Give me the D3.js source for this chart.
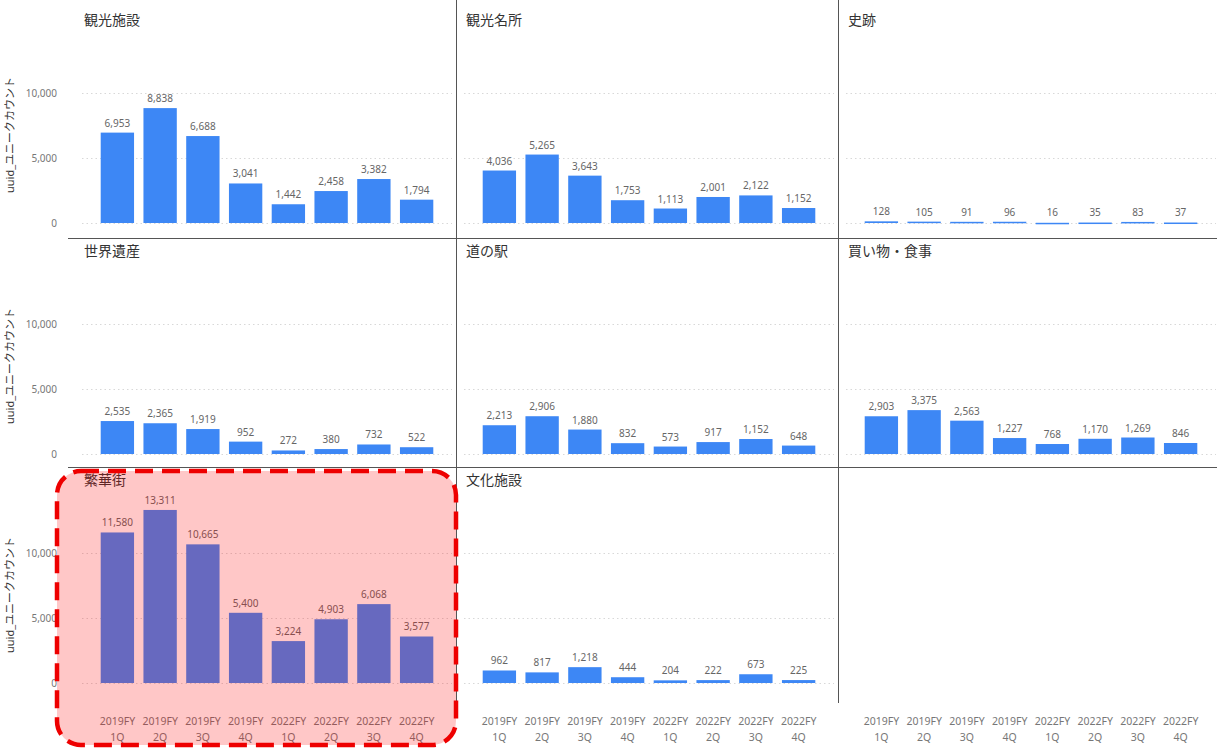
<!DOCTYPE html>
<html><head><meta charset="utf-8">
<script src="https://cdn.jsdelivr.net/npm/d3@7"></script>
<style>
html,body{margin:0;padding:0;background:#fff;}
svg{display:block;font-family:"Noto Sans","Noto Sans CJK JP",sans-serif;}
</style></head>
<body><svg id="c" width="1217" height="748"></svg>
<script>
const categories = ["2019FY 1Q","2019FY 2Q","2019FY 3Q","2019FY 4Q","2022FY 1Q","2022FY 2Q","2022FY 3Q","2022FY 4Q"];
const panelTitles = ["観光施設","観光名所","史跡","世界遺産","道の駅","買い物・食事","繁華街","文化施設"];
const kankoShisetsu = [6953, 8838, 6688, 3041, 1442, 2458, 3382, 1794];
const kankoMeisho = [4036, 5265, 3643, 1753, 1113, 2001, 2122, 1152];
const shiseki = [128, 105, 91, 96, 16, 35, 83, 37];
const sekaiIsan = [2535, 2365, 1919, 952, 272, 380, 732, 522];
const michiNoEki = [2213, 2906, 1880, 832, 573, 917, 1152, 648];
const kaimonoShokuji = [2903, 3375, 2563, 1227, 768, 1170, 1269, 846];
const hankagai = [11580, 13311, 10665, 5400, 3224, 4903, 6068, 3577];
const bunkaShisetsu = [962, 817, 1218, 444, 204, 222, 673, 225];
const seriesList = [kankoShisetsu, kankoMeisho, shiseki, sekaiIsan, michiNoEki, kaimonoShokuji, hankagai, bunkaShisetsu];
const yTicks = [0, 5000, 10000];
const yTitle = "uuid_ユニークカウント";

const svg = d3.select("#c");
const colX = [74, 456, 838];
const rowY = [7, 238, 467];
const colW = 382;
const fmt = d3.format(",");
const barColor = "#3d87f5";

const y = d3.scaleLinear().domain([0, 14000]).range([216, 34]);

// separators
const sep = svg.append("g").attr("stroke", "#555").attr("stroke-width", 1);
[238.5, 467.5].forEach(v => sep.append("line").attr("x1", 68).attr("x2", 1217).attr("y1", v).attr("y2", v));
[456.5, 838.5].forEach(v => sep.append("line").attr("x1", v).attr("x2", v).attr("y1", 0).attr("y2", 703));

for (let r = 0; r < 3; r++) {
  for (let c = 0; c < 3; c++) {
    const idx = r * 3 + c;
    const x0 = colX[c], y0 = rowY[r];
    const g = svg.append("g").attr("transform", `translate(0,${y0})`);
    const x = d3.scaleBand().domain(categories).range([x0 + 22, x0 + 364]).paddingInner(0.22).paddingOuter(0.11);

    if (idx < seriesList.length) {
      g.append("g").selectAll("line").data(yTicks).join("line")
        .attr("x1", x0 + 8).attr("x2", x0 + colW - 4)
        .attr("y1", d => Math.round(y(d)) + 0.5).attr("y2", d => Math.round(y(d)) + 0.5)
        .attr("stroke", "#d8d8d8").attr("stroke-dasharray", "1.5,3");
      g.append("text").attr("x", x0 + 10).attr("y", 18).attr("font-size", 14).attr("fill", "#333")
        .attr("font-family", "'Noto Sans CJK JP',sans-serif")
        .text(panelTitles[idx]);
      const data = seriesList[idx];
      g.append("g").selectAll("rect").data(data).join("rect")
        .attr("x", (d, i) => x(categories[i])).attr("width", x.bandwidth())
        .attr("y", d => y(d)).attr("height", d => Math.max(1.5, y(0) - y(d)))
        .attr("fill", barColor);
      g.append("g").selectAll("text").data(data).join("text")
        .attr("x", (d, i) => x(categories[i]) + x.bandwidth() / 2)
        .attr("y", d => Math.min(y(d), y(0) - 1.5) - 6)
        .attr("text-anchor", "middle").attr("font-size", 10).attr("fill", "#666")
        .text(d => fmt(d));
    }

    if (c === 0) {
      g.append("g").selectAll("text").data(yTicks).join("text")
        .attr("x", 57).attr("y", d => y(d) + 4).attr("text-anchor", "end")
        .attr("font-size", 10).attr("fill", "#777").text(d => fmt(d));
      g.append("text").attr("transform", `translate(14,${y(0) - 88}) rotate(-90)`)
        .attr("text-anchor", "middle").attr("font-size", 11).attr("fill", "#333").text(yTitle);
    }

    if (r === 2) {
      const lab = g.append("g").selectAll("text").data(categories).join("text")
        .attr("x", d => x(d) + x.bandwidth() / 2).attr("y", 258)
        .attr("text-anchor", "middle").attr("font-size", 10.5).attr("fill", "#777");
      lab.append("tspan").attr("x", d => x(d) + x.bandwidth() / 2).text(d => d.split(" ")[0]);
      lab.append("tspan").attr("x", d => x(d) + x.bandwidth() / 2).attr("dy", 16).text(d => d.split(" ")[1]);
    }
  }
}

// highlight overlay
svg.append("rect").attr("x", 57).attr("y", 471).attr("width", 399).attr("height", 274).attr("rx", 24)
  .attr("fill", "rgba(255,0,0,0.22)").attr("stroke", "#ee0000").attr("stroke-width", 4.5)
  .attr("stroke-dasharray", "18,9");
</script></body></html>
